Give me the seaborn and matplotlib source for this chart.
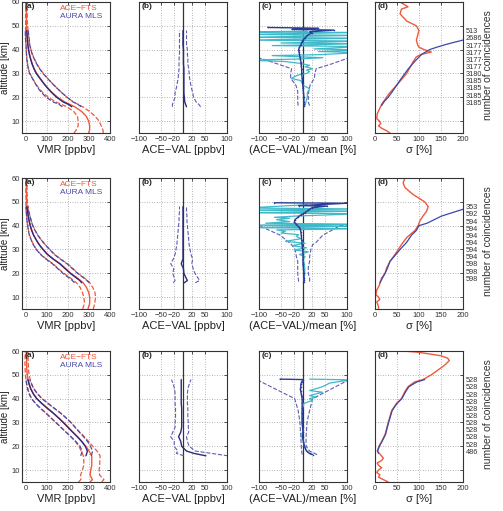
import numpy as np
import matplotlib
matplotlib.use('Agg')
import matplotlib.pyplot as plt
import matplotlib.transforms as mtransforms
from matplotlib.lines import Line2D
import seaborn as sns

sns.set_theme(style='white')
plt.rcParams['font.family'] = ['Liberation Sans', 'DejaVu Sans']
plt.rcParams['axes.unicode_minus'] = True

# altitude grids [km]
z_mls = [16, 17, 18, 20, 22, 24, 26, 28, 30, 32, 34, 36, 38, 40, 42, 44, 46, 48]
z_ace = [5, 6, 7, 8, 10, 12, 14, 16, 18, 20, 22, 24, 26, 28, 30, 32, 34, 36, 38, 40,
         42, 44, 46, 48, 50, 52, 55, 58, 60]

# ---------------- row 1 ----------------
ace_mean_1 = [298, 302, 303, 303, 298, 287, 265, 232, 185, 150, 124, 102, 83, 66, 50, 38, 29, 22, 16, 12,
              8, 6, 4, 3, 2, 1, 1, 1, 1]
ace_std_1 = [70, 65, 60, 55, 50, 42, 38, 38, 42, 45, 45, 43, 40, 36, 32, 27, 22, 18, 14, 11,
             9, 8, 7, 6, 5, 4, 4, 3, 3]
mls_mean_1 = [218, 202, 177, 145, 121, 100, 82, 65, 48, 37, 28, 21, 15, 11, 8, 6, 4, 3]
mls_std_1 = [45, 45, 47, 50, 48, 45, 40, 36, 32, 27, 22, 18, 14, 11, 9, 9, 8, 7]
diff_mean_1 = [8, 6, 4, 3, 2, 2, 2, 2, 2, 2, 1, 1, 1, 1, 0, 0, 0, 0]
diff_std_1 = [32, 30, 26, 21, 20, 17, 15, 13, 12, 11, 10, 10, 9, 9, 8, 8, 8, 8]
z_rel_1 = [49.3, 49.0, 48.5, 48.2, 47.5, 47, 46, 45, 44, 43, 42, 41, 40, 39, 38, 37, 36, 35, 34, 33,
           32, 30, 28, 26, 24, 22, 20, 18, 17, 16.5]
rel_1 = [-80, 35, -25, 70, 15, 20, 10, 5, 0, -3, -5, -8, -10, -9, -8, -7, -6, -5, -4, -4,
         -3, -3, -2, -1, 0, 1, 2, 2, 2, 2]
z_rel2_1 = [47.8, 47.4, 47.2, 46.4, 46.0, 45.2, 44.8, 44.0, 43.6, 42.8, 42.5, 41.7, 41.3, 40.3, 39.9,
            39.2, 38.8, 37.9, 37.5, 36.6, 36.0, 35.6, 35.0, 34.2, 33.4, 32.8, 32.0, 31.4, 30.8, 30.1,
            29.4, 28.6, 27.9, 27.0, 26.0, 25.0, 23.6, 22.0, 20.5, 19.0, 17.5, 16.4]
rel2_1 = [10, -130, 130, -130, 130, -130, 130, -130, 130, -50, 130, -70, 130, 25, 130,
          35, 130, 40, -70, 45, -20, -130, -40, -5, 15, 5, 22, 8, 15, 10,
          -10, -20, -26, -5, -2, 0, 15, 10, 10, 8, 6, 4]
z_rd_1 = [16.5, 18, 20, 22.5, 25, 28, 30, 32, 34, 36.3, 37]
rel_lo_1 = [-11, -12, -12, -12, -16, -28, -28, -26, -58, -95, -130]
rel_hi_1 = [15, 12, 12, 13, 16, 26, 27, 30, 65, 100, 130]
z_sa_1 = [5, 6, 7, 8, 9, 10, 11, 13, 15, 17, 20, 22, 25, 30, 35, 37, 38, 39, 40, 41,
          42, 44, 46, 48, 50, 52, 55, 57, 58, 60]
sig_ace_1 = [34, 26, 15, 8, 13, 10, 4, 5, 10, 15, 26, 34, 49, 72, 87, 94, 105, 128, 112, 100,
             97, 94, 97, 100, 94, 72, 57, 60, 75, 57]
z_sm_1 = [16.5, 18, 20, 22, 25, 28, 30, 32, 35, 38, 40, 41, 42, 43, 44, 46, 48]
sig_mls_1 = [15, 20, 30, 38, 49, 60, 68, 76, 90, 106, 124, 140, 158, 178, 200, 240, 280]
counts_1 = [513, 2686, 3177, 3177, 3177, 3177, 3180, 3185, 3185, 3185, 3185]

# ---------------- row 2 ----------------
ace_mean_2 = [295, 298, 302, 303, 303, 298, 288, 272, 245, 213, 188, 163, 130, 102, 81, 63, 48, 36, 27, 20,
              14, 10, 6, 4, 2, 2, 1, 1, 1]
ace_std_2 = [25, 25, 25, 25, 28, 30, 30, 32, 33, 34, 35, 35, 34, 33, 32, 28, 24, 20, 16, 12,
             10, 8, 6, 5, 4, 3, 3, 3, 3]
mls_mean_2 = [265, 255, 240, 210, 185, 160, 128, 100, 80, 62, 48, 35, 26, 19, 14, 10, 6, 3]
mls_std_2 = [35, 35, 35, 35, 35, 35, 34, 33, 32, 28, 24, 20, 16, 12, 10, 8, 6, 5]
diff_mean_2 = [3, 10, 7, 2, 1, -4, 0, 0, 0, 0, 0, 0, 0, 0, 0, 0, 0, 0]
diff_std_2 = [25, 28, 27, 25, 22, 24, 22, 18, 16, 14, 13, 12, 11, 10, 9, 9, 8, 8]
z_rel_2 = [49.6, 49.4, 48.4, 48.2, 47.5, 46.5, 45.5, 44.5, 43.5, 42.5, 41.5, 40.5, 39.5, 38.5, 37.5,
           36, 34, 32, 30, 28, 26, 24, 22, 20, 18, 17, 16.5]
rel_2 = [-65, 100, -10, 55, 20, 12, 5, -5, -12, -18, -20, -15, -10, -6, -5,
         -4, -3, -2, -1, 0, 0, 0, 1, 2, 2, 3, 2]
z_rel2_2 = [48.8, 47.4, 47.0, 46.5, 46.1, 45.4, 45.0, 44.0, 43.5, 43.1, 42.5, 41.7, 41.0, 40.6, 40.2,
            39.8, 39.2, 38.7, 38.2, 37.6, 36.9, 36.2, 35.5, 34.5, 33.4, 32.6, 31.6, 30.7, 29.8, 29.0,
            27.9, 27.0, 25.9, 24.0, 22.0, 20.0, 18.0, 17.0]
rel2_2 = [10, -130, 130, -130, 130, -130, 130, -20, -65, -30, -60, -30, -85, 130, -130,
          130, -130, 130, -60, -40, -50, -10, -15, -5, -40, 5, -25, 8, -20, 12,
          -8, 5, 0, 3, 4, 4, 3, 2]
z_rd_2 = [16.5, 18, 20, 22.5, 25, 27, 30, 32, 33, 36, 40, 41]
rel_lo_2 = [-10, -11, -12, -12, -12, -15, -18, -26, -32, -52, -100, -130]
rel_hi_2 = [15, 15, 12, 12, 15, 15, 18, 22, 30, 45, 85, 130]
z_sa_2 = [5, 6, 8, 9, 10, 11, 13, 15, 18, 20, 22, 25, 27, 30, 32, 35, 38, 40, 42, 44,
          46, 48, 50, 53, 56, 58, 60]
sig_ace_2 = [8, 8, 4, 11, 8, 2, 4, 10, 15, 23, 26, 34, 42, 53, 60, 72, 91, 98, 102, 109,
             117, 121, 113, 87, 68, 64, 68]
z_sm_2 = [16, 18, 20, 22, 25, 28, 30, 33, 36, 38, 40, 41, 43, 44, 46, 48]
sig_mls_2 = [11, 17, 23, 28, 34, 48, 57, 72, 83, 94, 100, 118, 140, 151, 185, 220]
counts_2 = [353, 592, 594, 594, 594, 594, 594, 594, 598, 598, 598]

# ---------------- row 3 ----------------
ace_mean_3 = [305, 316, 310, 305, 308, 313, 313, 313, 300, 285, 266, 245, 222, 200, 178, 154, 129, 101, 75, 51,
              35, 23, 15, 9, 5, 3, 2, 2, 2]
ace_std_3 = [55, 55, 50, 45, 40, 38, 38, 40, 38, 33, 32, 32, 33, 34, 36, 36, 35, 33, 30, 25,
             20, 15, 12, 10, 9, 8, 8, 7, 7]
mls_mean_3 = [285, 289, 292, 282, 265, 244, 221, 199, 177, 153, 128, 100, 74, 50, 34, 22, 14, 8]
mls_std_3 = [25, 25, 25, 25, 28, 30, 32, 34, 36, 36, 35, 33, 30, 25, 20, 15, 12, 9]
diff_mean_3 = [52, 25, 8, -3, -5, -10, -5, -3, -3, -3, -3, -3, -4, -4, -4, -4, -4, -4]
diff_std_3 = [50, 40, 20, 17, 15, 18, 18, 15, 15, 14, 14, 14, 14, 14, 14, 15, 18, 22]
z_rel_3 = [48.2, 48.0, 47, 46, 45, 44, 43, 42, 41, 40, 38, 36, 34, 32, 30, 28, 26, 24, 22, 20,
           18, 17, 16.5]
rel_3 = [-52, 0, -3, -5, -5, -6, -5, -4, -3, -2, -2, -2, -2, -2, -2, -1, 0, -1, 1, 3,
         8, 15, 22]
z_rel2_3 = [48.2, 47.8, 47.4, 46.5, 45.5, 44.8, 43.4, 42.7, 41.3, 40.6, 40.0, 39.3, 38, 36, 34,
            32, 30, 28, 26, 25, 24, 23, 22, 20, 18, 17, 16.5]
rel2_3 = [15, 130, 90, 60, 50, 41, 15, 44, 15, 30, 15, 22, 2, -1, -2,
          -2, -2, -1, 0, -5, -3, -1, 1, 3, 8, 14, 20]
z_rd_3 = [16.5, 18, 20, 24, 30, 35, 40, 47.5, 48]
rel_lo_3 = [-2, -3, -4, -5, -7, -11, -19, -100, -110]
rel_hi_3 = [32, 15, 7, 7, 9, 15, 22, 100, 110]
z_sa_3 = [5, 6, 7, 8, 9, 10, 11, 12, 13, 14, 15, 17, 18, 20, 22, 25, 30, 35, 38, 40,
          43, 45, 47, 48, 50, 52, 54, 56, 57, 58, 59.5, 60]
sig_ace_3 = [30, 19, 8, 11, 4, 8, 15, 8, 5, 15, 19, 10, 5, 9, 15, 23, 30, 38, 49, 60,
             68, 75, 90, 109, 128, 143, 158, 169, 165, 150, 98, 62]
z_sm_3 = [17, 18, 20, 22, 25, 30, 35, 38, 40, 43, 45, 47, 48]
sig_mls_3 = [8, 6, 10, 16, 24, 31, 39, 50, 61, 70, 77, 95, 113]
counts_3 = [528, 528, 528, 528, 528, 528, 528, 528, 528, 528, 486]

# colours
RED = '#f0583c'
NAVY = '#2b2b7c'
NAVY_D = '#4a4aa8'
DIFF_D = '#5c5cb4'
REL = '#2a3c96'
CYAN = '#3fb9c9'
BLUE = '#3a48a8'

# layout in pixels (figure 503 x 511)
W, H = 503, 511
col_left = [22, 139, 259, 375]
row_top = [2, 178, 351]
ax_w, ax_h = 88, 131


def prof(ax, x, z, **kw):
    sns.lineplot(x=np.asarray(x, float), y=np.asarray(z, float), ax=ax, sort=False,
                 estimator=None, legend=False, **kw)


def style_ax(ax, xlim, xticks, panel, xlabel, ylabels=False):
    ax.set_xlim(*xlim)
    ax.set_ylim(5, 60)
    ax.set_xticks(xticks)
    ax.set_yticks(range(10, 61, 10))
    ax.grid(True, linestyle=(0, (1, 2)), color='#9c9c9c', linewidth=0.6)
    ax.tick_params(direction='in', length=2.5, width=0.6, labelsize=5.5, pad=2,
                   top=True, right=True, labelleft=ylabels, colors='#333333')
    ax.tick_params(axis='y', pad=1.5)
    for s in ax.spines.values():
        s.set_linewidth(0.8)
        s.set_color('#333333')
    ax.text(0.035, 0.99, panel, transform=ax.transAxes, fontsize=6, fontweight='bold',
            va='top', ha='left')
    ax.set_xlabel(xlabel, fontsize=8, labelpad=1.5, color='#222222')
    ax.set_ylabel('')


fig = plt.figure(figsize=(W / 100, H / 100), dpi=100)
fig.patch.set_facecolor('white')

rows = [
    (ace_mean_1, ace_std_1, mls_mean_1, mls_std_1, diff_mean_1, diff_std_1, z_rel_1, rel_1,
     z_rel2_1, rel2_1, z_rd_1, rel_lo_1, rel_hi_1, z_sa_1, sig_ace_1, z_sm_1, sig_mls_1, counts_1),
    (ace_mean_2, ace_std_2, mls_mean_2, mls_std_2, diff_mean_2, diff_std_2, z_rel_2, rel_2,
     z_rel2_2, rel2_2, z_rd_2, rel_lo_2, rel_hi_2, z_sa_2, sig_ace_2, z_sm_2, sig_mls_2, counts_2),
    (ace_mean_3, ace_std_3, mls_mean_3, mls_std_3, diff_mean_3, diff_std_3, z_rel_3, rel_3,
     z_rel2_3, rel2_3, z_rd_3, rel_lo_3, rel_hi_3, z_sa_3, sig_ace_3, z_sm_3, sig_mls_3, counts_3),
]

for r, (am, asd, mm, msd, dm, dsd, zr, rl, zr2, rl2, zd, lo, hi, zsa, sa, zsm, sm, cnt) in enumerate(rows):
    axs = []
    for c in range(4):
        left = col_left[c] / W
        bottom = 1 - (row_top[r] + ax_h) / H
        axs.append(fig.add_axes([left, bottom, ax_w / W, ax_h / H]))
    a, b, cax, d = axs

    # (a) VMR profiles
    am, asd, mm, msd = map(np.asarray, (am, asd, mm, msd))
    prof(a, am - asd, z_ace, color=RED, linewidth=0.9, linestyle='--')
    prof(a, am + asd, z_ace, color=RED, linewidth=0.9, linestyle='--')
    prof(a, am, z_ace, color=RED, linewidth=1.0)
    prof(a, mm - msd, z_mls, color=NAVY_D, linewidth=0.9, linestyle='--')
    prof(a, mm + msd, z_mls, color=NAVY_D, linewidth=0.9, linestyle='--')
    prof(a, mm, z_mls, color=NAVY, linewidth=1.0)
    style_ax(a, (-20, 400), [0, 100, 200, 300, 400], '(a)', 'VMR [ppbv]', ylabels=True)
    a.set_ylabel('altitude [km]', fontsize=7, color='#222222')
    a.yaxis.set_label_coords(-0.14, 0.5)
    a.legend(handles=[Line2D([], [], color=RED), Line2D([], [], color=NAVY_D)],
             labels=['ACE\u2212FTS', 'AURA MLS'], loc='upper left', bbox_to_anchor=(0.38, 1.02),
             frameon=False, handlelength=0, handletextpad=0, labelcolor='linecolor',
             fontsize=6, labelspacing=0.05, borderaxespad=0.2)

    # (b) absolute differences
    dm, dsd = np.asarray(dm), np.asarray(dsd)
    b.axvline(0, color='#333333', linewidth=0.9)
    prof(b, dm - dsd, z_mls, color=DIFF_D, linewidth=0.8, linestyle='--')
    prof(b, dm + dsd, z_mls, color=DIFF_D, linewidth=0.8, linestyle='--')
    prof(b, dm, z_mls, color=NAVY, linewidth=1.0)
    style_ax(b, (-100, 100), [-100, -50, -20, 20, 50, 100], '(b)', 'ACE\u2212VAL [ppbv]')

    # (c) relative differences
    cax.axvline(0, color='#333333', linewidth=0.9)
    prof(cax, lo, zd, color=DIFF_D, linewidth=0.8, linestyle='--')
    prof(cax, hi, zd, color=DIFF_D, linewidth=0.8, linestyle='--')
    prof(cax, rl2, zr2, color=CYAN, linewidth=0.9)
    prof(cax, rl, zr, color=REL, linewidth=1.0, marker='.', markersize=2.2, markeredgewidth=0)
    style_ax(cax, (-100, 100), [-100, -50, -20, 20, 50, 100], '(c)', '(ACE\u2212VAL)/mean [%]')

    # (d) standard deviations
    prof(d, sa, zsa, color=RED, linewidth=1.0)
    prof(d, sm, zsm, color=BLUE, linewidth=0.9)
    style_ax(d, (0, 200), [0, 50, 100, 150, 200], '(d)', '\u03c3 [%]')

    trans = mtransforms.blended_transform_factory(d.transAxes, d.transData)
    for i, n in enumerate(cnt):
        d.text(1.035, 47.5 - 3.0 * i, str(n), transform=trans, fontsize=5.3,
               va='center', ha='left', color='#333333')
    d.text(1.285, 0.52, 'number of coincidences', transform=d.transAxes, rotation=90,
           fontsize=7.5, ha='center', va='center', color='#333333')

fig.savefig('out.png', dpi=100, facecolor='white')
